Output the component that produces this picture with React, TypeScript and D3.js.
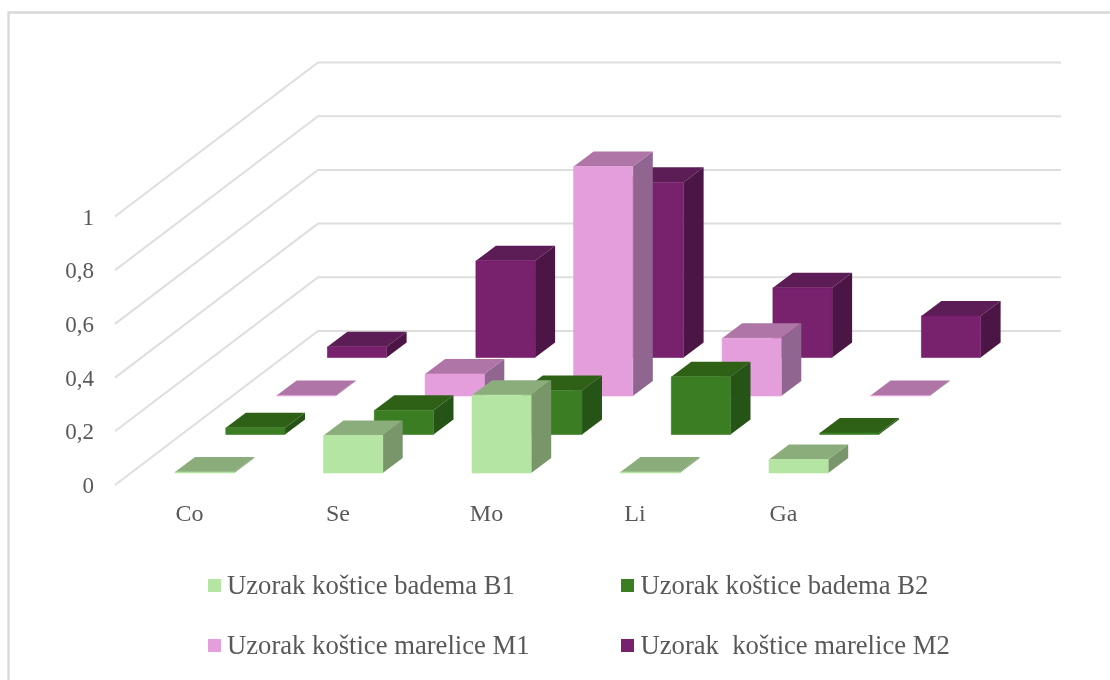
import React from "react";
import * as d3 from "d3";

const categories = ["Co", "Se", "Mo", "Li", "Ga"];
const seriesNames = [
  "Uzorak koštice badema B1",
  "Uzorak koštice badema B2",
  "Uzorak koštice marelice M1",
  "Uzorak  koštice marelice M2",
];
const b1Values = [0.004, 0.14, 0.29, 0.004, 0.05];
const b2Values = [0.025, 0.09, 0.164, 0.215, 0.006];
const m1Values = [0.002, 0.082, 0.855, 0.215, 0.002];
const m2Values = [0.04, 0.36, 0.653, 0.26, 0.155];
const allValues = [b1Values, b2Values, m1Values, m2Values];
const yTicks = [0, 0.2, 0.4, 0.6, 0.8, 1];

const frontColors = ["#B5E5A2", "#3B7D23", "#E59EDC", "#78206E"];
const topColors = ["#8BAD7B", "#2D6118", "#AE75A6", "#5B1A54"];
const sideColors = ["#78966B", "#275317", "#906690", "#4C1545"];

const FONT = "'Liberation Serif', 'Times New Roman', serif";
const TEXT = "#595959";
const GRID = "#DEDEDE";

const y = d3.scaleLinear().domain([0, 1]).range([485, 216.5]);
const x = d3
  .scaleBand<string>()
  .domain(categories)
  .range([175, 828.2])
  .paddingInner(0.6013)
  .paddingOuter(0);
const idx = seriesNames.map((_, i) => i);
const rowBase = d3.scalePoint<number>().domain(idx).range([473, 357.5]);
const rowShift = d3.scalePoint<number>().domain(idx).range([0, 152.4]);

const BACK_DX = 203;
const BACK_DY = -154;
const RIGHT = 1061;
const DEPTH_DX = 20;
const DEPTH_DY = -15;

const poly = d3.line<[number, number]>().curve(d3.curveLinearClosed);

function Bar({ cat, s, v }: { cat: string; s: number; v: number }) {
  const left = (x(cat) as number) + (rowShift(s) as number);
  const right = left + x.bandwidth();
  const base = rowBase(s) as number;
  const top = base - (y(0) - y(v));
  const front: [number, number][] = [[left, top], [right, top], [right, base], [left, base]];
  const topFace: [number, number][] = [
    [left, top],
    [left + DEPTH_DX, top + DEPTH_DY],
    [right + DEPTH_DX, top + DEPTH_DY],
    [right, top],
  ];
  const side: [number, number][] = [
    [right, top],
    [right + DEPTH_DX, top + DEPTH_DY],
    [right + DEPTH_DX, base + DEPTH_DY],
    [right, base],
  ];
  return (
    <g>
      <path d={poly(side) as string} fill={sideColors[s]} />
      <path d={poly(topFace) as string} fill={topColors[s]} />
      <path d={poly(front) as string} fill={frontColors[s]} stroke={frontColors[s]} strokeWidth={0.6} />
    </g>
  );
}

const legendPos = [
  { sx: 208, sy: 579, sw: 13, tx: 227, ty: 594 },
  { sx: 621, sy: 579, sw: 13, tx: 640.5, ty: 594 },
  { sx: 208, sy: 639, sw: 13, tx: 227, ty: 654 },
  { sx: 621, sy: 639, sw: 13, tx: 640.5, ty: 654 },
];

export default function App() {
  return (
    <svg
      width={1110}
      height={680}
      viewBox="0 0 1110 680"
      style={{ position: "fixed", left: 0, top: 0, background: "#fff" }}
    >
      <defs>
        <filter id="soft" x="0" y="0" width="100%" height="100%">
          <feGaussianBlur stdDeviation="0.5" />
        </filter>
      </defs>
      <g filter="url(#soft)">
        <rect x={0} y={0} width={1110} height={680} fill="#fff" />
        <path d="M8.5,680V12.5H1110" fill="none" stroke="#D9D9D9" strokeWidth={2.4} />
        {yTicks.map((t) => {
          const fy = y(t);
          return (
            <path
              key={t}
              d={`M115,${fy}L${115 + BACK_DX},${fy + BACK_DY}H${RIGHT}`}
              fill="none"
              stroke={GRID}
              strokeWidth={2}
            />
          );
        })}
        {yTicks.map((t) => (
          <text
            key={t}
            x={94}
            y={y(t) + 8}
            textAnchor="end"
            fontFamily={FONT}
            fontSize={23}
            fill={TEXT}
          >
            {String(t).replace(".", ",")}
          </text>
        ))}
        {[3, 2, 1, 0].map((s) =>
          categories.map((c, i) => <Bar key={`${s}-${c}`} cat={c} s={s} v={allValues[s][i]} />)
        )}
        {categories.map((c) => (
          <text
            key={c}
            x={(x(c) as number) + 14.5}
            y={520.5}
            textAnchor="middle"
            fontFamily={FONT}
            fontSize={24}
            fill={TEXT}
          >
            {c}
          </text>
        ))}
        {seriesNames.map((n, i) => (
          <g key={n}>
            <rect
              x={legendPos[i].sx}
              y={legendPos[i].sy}
              width={legendPos[i].sw}
              height={legendPos[i].sw}
              fill={frontColors[i]}
            />
            <text
              x={legendPos[i].tx}
              y={legendPos[i].ty}
              fontFamily={FONT}
              fontSize={26.65}
              fill={TEXT}
              style={{ whiteSpace: "pre" }}
            >
              {n}
            </text>
          </g>
        ))}
      </g>
    </svg>
  );
}
